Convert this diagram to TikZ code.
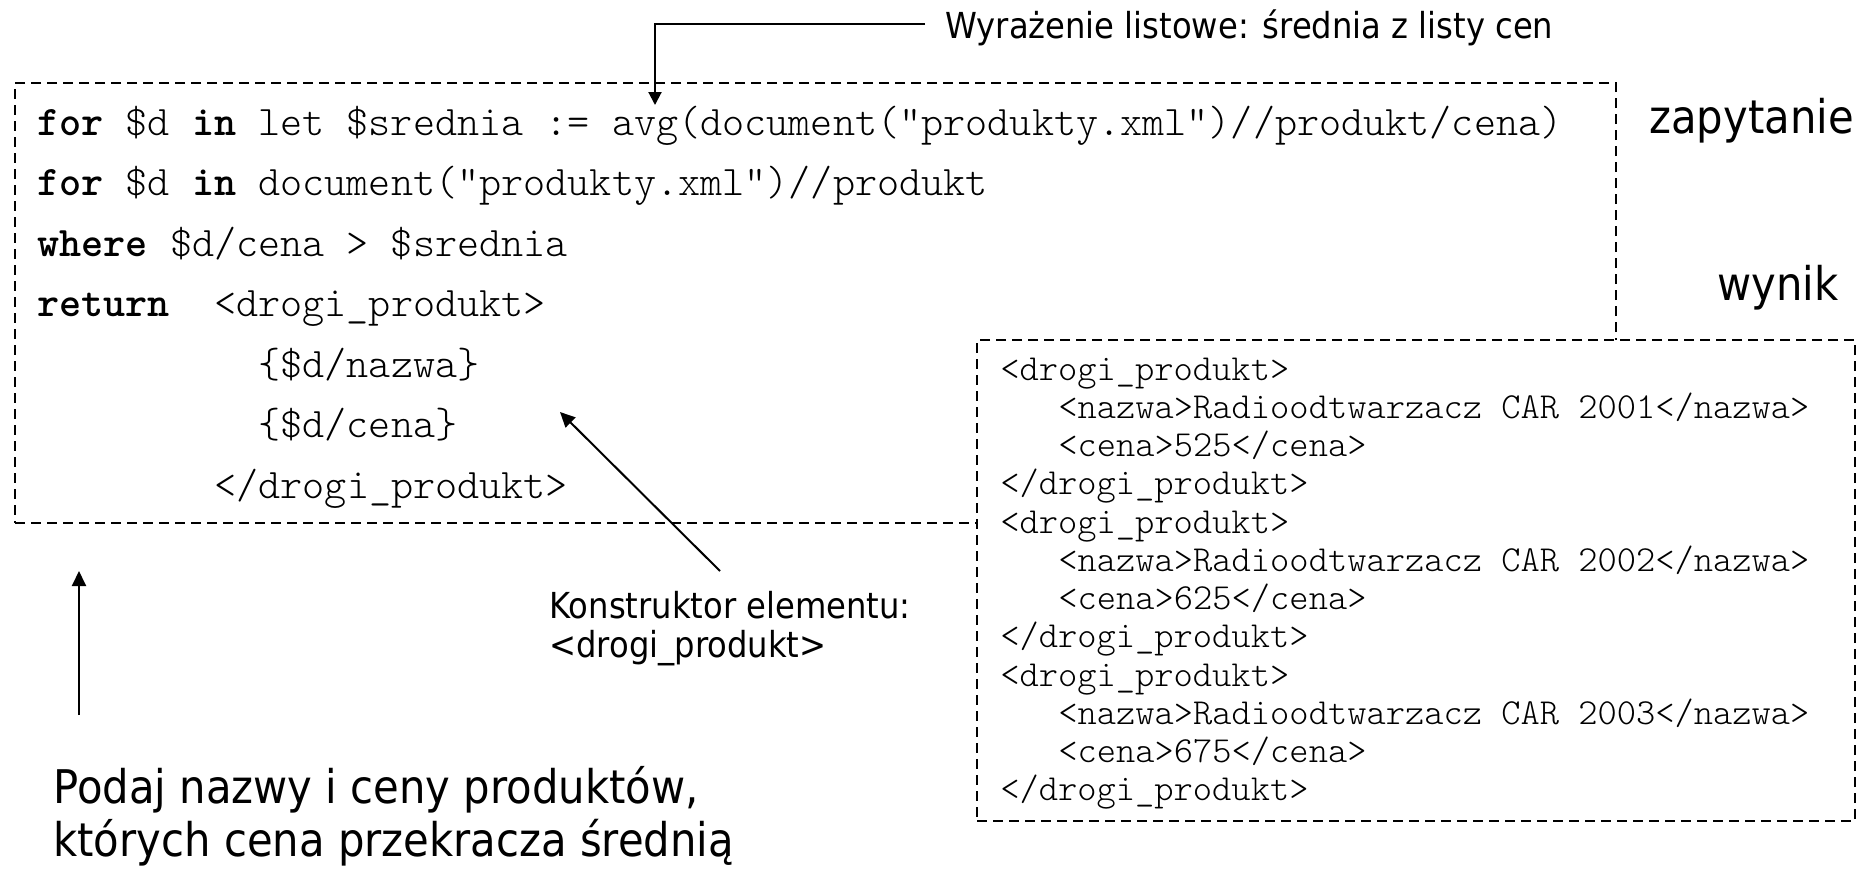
\documentclass[tikz,border=0pt]{standalone}
\usepackage{fontspec}
\setmonofont{lmmonolt10-regular.otf}[BoldFont=lmmonolt10-bold.otf]
\newfontfamily\lblfont[FakeStretch=0.9]{DejaVu Sans}
\usetikzlibrary{arrows.meta,fit}
\begin{document}
\begin{tikzpicture}[x=0.5pt,y=-0.5pt,
  box/.style={draw, dash pattern=on 5pt off 3pt, line width=1.4pt, inner sep=0pt},
  qcode/.style={anchor=base west, inner sep=0pt, font=\ttfamily\fontsize{21.05}{24}\selectfont},
  rcode/.style={anchor=base west, inner sep=0pt, font=\ttfamily\fontsize{18.34}{21}\selectfont},
  biglbl/.style={anchor=base west, inner sep=0pt, font=\lblfont\fontsize{23.2}{27}\selectfont},
  smalllbl/.style={anchor=base west, inner sep=0pt, font=\lblfont\fontsize{17.9}{21}\selectfont},
  arr/.style={line width=1pt, -{Triangle[length=7.5pt,width=7pt]}}
]
\useasboundingbox (0,0) rectangle (1859,869);

% query box
\coordinate (qnw) at (15,83);
\coordinate (qse) at (1616,523);
\node[box, fit=(qnw)(qse)] (query) {};

\node[qcode] (q1) at (37,135) {\textbf{for} \$d \textbf{in} let \$srednia := avg(document("produkty.xml")//produkt/cena)};
\node[qcode] (q2) at (37,195.5) {\textbf{for} \$d \textbf{in} document("produkty.xml")//produkt};
\node[qcode] (q3) at (37,256) {\textbf{where} \$d/cena > \$srednia};
\node[qcode] (q4) at (37,316.5) {\textbf{return}\ \ <drogi\_produkt>};
\node[qcode] (q5) at (258,377) {\{\$d/nazwa\}};
\node[qcode] (q6) at (258,437.5) {\{\$d/cena\}};
\node[qcode] (q7) at (214,498) {</drogi\_produkt>};

% result box
\coordinate (rnw) at (977,340);
\coordinate (rse) at (1855,821);
\node[box, fill=white, fit=(rnw)(rse)] (result) {};

\node[rcode] (r1) at (1000,380) {<drogi\_produkt>};
\node[rcode] (r2) at (1058,418.25) {<nazwa>Radioodtwarzacz CAR 2001</nazwa>};
\node[rcode] (r3) at (1058,456.5) {<cena>525</cena>};
\node[rcode] (r4) at (1000,494.75) {</drogi\_produkt>};
\node[rcode] (r5) at (1000,533) {<drogi\_produkt>};
\node[rcode] (r6) at (1058,571.25) {<nazwa>Radioodtwarzacz CAR 2002</nazwa>};
\node[rcode] (r7) at (1058,609.5) {<cena>625</cena>};
\node[rcode] (r8) at (1000,647.75) {</drogi\_produkt>};
\node[rcode] (r9) at (1000,686) {<drogi\_produkt>};
\node[rcode] (r10) at (1058,724.25) {<nazwa>Radioodtwarzacz CAR 2003</nazwa>};
\node[rcode] (r11) at (1058,762.5) {<cena>675</cena>};
\node[rcode] (r12) at (1000,800.75) {</drogi\_produkt>};

% labels
\node[biglbl] (zap) at (1649,133) {zapytanie};
\node[biglbl] (wyn) at (1717,300) {wynik};
\node[smalllbl] (wyr) at (945,38) {Wyrażenie listowe: średnia z listy cen};
\node[smalllbl] (kon1) at (549,618) {Konstruktor elementu:};
\node[smalllbl] (kon2) at (549,657) {<drogi\_produkt>};
\node[biglbl] (pod1) at (53,803) {Podaj nazwy i ceny produktów,};
\node[biglbl] (pod2) at (53,856) {których cena przekracza średnią};

% arrows
\coordinate (wyrstart) at (925,24);
\coordinate (avgpt) at (655,105);
\draw[arr, -{Triangle[length=6.5pt,width=6.5pt]}] (wyrstart) -| (avgpt);

\coordinate (kfoot) at (720,571);
\coordinate (khead) at (560,412);
\draw[arr] (kfoot) -- (khead);

\coordinate (upfoot) at (79,715);
\coordinate (uphead) at (79,571);
\draw[arr] (upfoot) -- (uphead);
\end{tikzpicture}
\end{document}
